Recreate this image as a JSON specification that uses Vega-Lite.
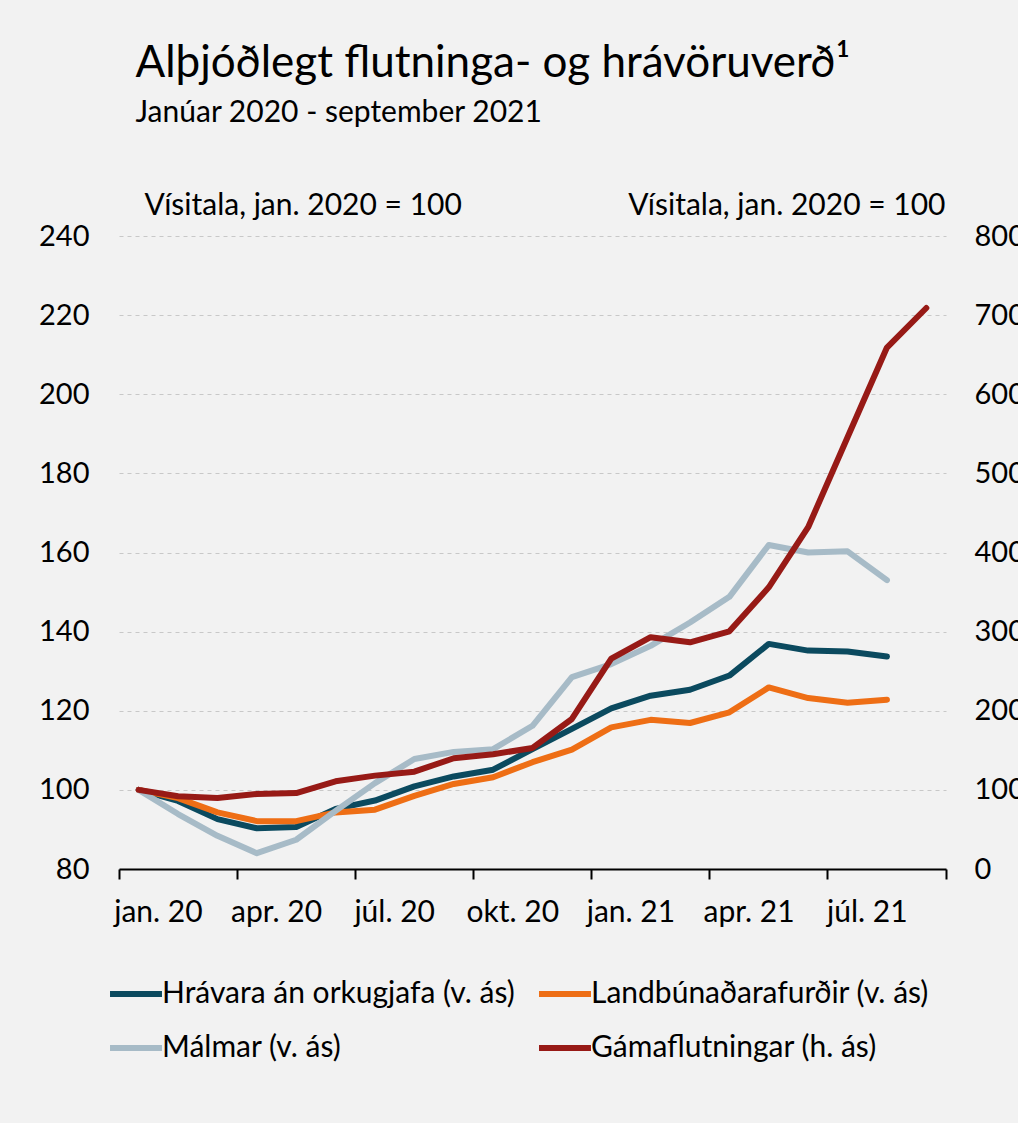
{
  "$schema": "https://vega.github.io/schema/vega-lite/v6.json",
  "background": "#f2f2f2",
  "padding": {"left": 38, "top": 42, "right": 10, "bottom": 60},
  "width": 827,
  "height": 633,
  "title": {
    "text": "Alþjóðlegt flutninga- og hrávöruverð¹",
    "subtitle": "Janúar 2020 - september 2021",
    "anchor": "start",
    "dx": 97,
    "font": "Lato",
    "fontSize": 44,
    "fontWeight": "normal",
    "color": "#000000",
    "subtitleFont": "Lato",
    "subtitleFontSize": 30,
    "subtitleColor": "#000000",
    "subtitlePadding": 12,
    "offset": 62
  },
  "data": {
    "values": [
      {"month": "jan. 20", "series": "Hrávara án orkugjafa (v. ás)", "value": 100},
      {"month": "feb. 20", "series": "Hrávara án orkugjafa (v. ás)", "value": 97.2},
      {"month": "mar. 20", "series": "Hrávara án orkugjafa (v. ás)", "value": 92.6},
      {"month": "apr. 20", "series": "Hrávara án orkugjafa (v. ás)", "value": 90.3},
      {"month": "maí 20", "series": "Hrávara án orkugjafa (v. ás)", "value": 90.6},
      {"month": "jún. 20", "series": "Hrávara án orkugjafa (v. ás)", "value": 95.2},
      {"month": "júl. 20", "series": "Hrávara án orkugjafa (v. ás)", "value": 97.3},
      {"month": "ágú. 20", "series": "Hrávara án orkugjafa (v. ás)", "value": 100.9},
      {"month": "sep. 20", "series": "Hrávara án orkugjafa (v. ás)", "value": 103.4},
      {"month": "okt. 20", "series": "Hrávara án orkugjafa (v. ás)", "value": 105.1},
      {"month": "nóv. 20", "series": "Hrávara án orkugjafa (v. ás)", "value": 110.3},
      {"month": "des. 20", "series": "Hrávara án orkugjafa (v. ás)", "value": 115.4},
      {"month": "jan. 21", "series": "Hrávara án orkugjafa (v. ás)", "value": 120.6},
      {"month": "feb. 21", "series": "Hrávara án orkugjafa (v. ás)", "value": 123.8},
      {"month": "mar. 21", "series": "Hrávara án orkugjafa (v. ás)", "value": 125.3},
      {"month": "apr. 21", "series": "Hrávara án orkugjafa (v. ás)", "value": 128.9},
      {"month": "maí 21", "series": "Hrávara án orkugjafa (v. ás)", "value": 136.9},
      {"month": "jún. 21", "series": "Hrávara án orkugjafa (v. ás)", "value": 135.2},
      {"month": "júl. 21", "series": "Hrávara án orkugjafa (v. ás)", "value": 135.0},
      {"month": "ágú. 21", "series": "Hrávara án orkugjafa (v. ás)", "value": 133.7},

      {"month": "jan. 20", "series": "Landbúnaðarafurðir (v. ás)", "value": 100},
      {"month": "feb. 20", "series": "Landbúnaðarafurðir (v. ás)", "value": 97.9},
      {"month": "mar. 20", "series": "Landbúnaðarafurðir (v. ás)", "value": 94.3},
      {"month": "apr. 20", "series": "Landbúnaðarafurðir (v. ás)", "value": 92.1},
      {"month": "maí 20", "series": "Landbúnaðarafurðir (v. ás)", "value": 92.1},
      {"month": "jún. 20", "series": "Landbúnaðarafurðir (v. ás)", "value": 94.3},
      {"month": "júl. 20", "series": "Landbúnaðarafurðir (v. ás)", "value": 95.0},
      {"month": "ágú. 20", "series": "Landbúnaðarafurðir (v. ás)", "value": 98.5},
      {"month": "sep. 20", "series": "Landbúnaðarafurðir (v. ás)", "value": 101.5},
      {"month": "okt. 20", "series": "Landbúnaðarafurðir (v. ás)", "value": 103.2},
      {"month": "nóv. 20", "series": "Landbúnaðarafurðir (v. ás)", "value": 107.0},
      {"month": "des. 20", "series": "Landbúnaðarafurðir (v. ás)", "value": 110.2},
      {"month": "jan. 21", "series": "Landbúnaðarafurðir (v. ás)", "value": 115.8},
      {"month": "feb. 21", "series": "Landbúnaðarafurðir (v. ás)", "value": 117.7},
      {"month": "mar. 21", "series": "Landbúnaðarafurðir (v. ás)", "value": 116.9},
      {"month": "apr. 21", "series": "Landbúnaðarafurðir (v. ás)", "value": 119.6},
      {"month": "maí 21", "series": "Landbúnaðarafurðir (v. ás)", "value": 125.9},
      {"month": "jún. 21", "series": "Landbúnaðarafurðir (v. ás)", "value": 123.2},
      {"month": "júl. 21", "series": "Landbúnaðarafurðir (v. ás)", "value": 122.0},
      {"month": "ágú. 21", "series": "Landbúnaðarafurðir (v. ás)", "value": 122.8},

      {"month": "jan. 20", "series": "Málmar (v. ás)", "value": 100},
      {"month": "feb. 20", "series": "Málmar (v. ás)", "value": 93.9},
      {"month": "mar. 20", "series": "Málmar (v. ás)", "value": 88.4},
      {"month": "apr. 20", "series": "Málmar (v. ás)", "value": 84.0},
      {"month": "maí 20", "series": "Málmar (v. ás)", "value": 87.4},
      {"month": "jún. 20", "series": "Málmar (v. ás)", "value": 94.7},
      {"month": "júl. 20", "series": "Málmar (v. ás)", "value": 101.7},
      {"month": "ágú. 20", "series": "Málmar (v. ás)", "value": 107.8},
      {"month": "sep. 20", "series": "Málmar (v. ás)", "value": 109.6},
      {"month": "okt. 20", "series": "Málmar (v. ás)", "value": 110.3},
      {"month": "nóv. 20", "series": "Málmar (v. ás)", "value": 116.2},
      {"month": "des. 20", "series": "Málmar (v. ás)", "value": 128.5},
      {"month": "jan. 21", "series": "Málmar (v. ás)", "value": 131.8},
      {"month": "feb. 21", "series": "Málmar (v. ás)", "value": 136.4},
      {"month": "mar. 21", "series": "Málmar (v. ás)", "value": 142.3},
      {"month": "apr. 21", "series": "Málmar (v. ás)", "value": 148.8},
      {"month": "maí 21", "series": "Málmar (v. ás)", "value": 161.9},
      {"month": "jún. 21", "series": "Málmar (v. ás)", "value": 160.0},
      {"month": "júl. 21", "series": "Málmar (v. ás)", "value": 160.3},
      {"month": "ágú. 21", "series": "Málmar (v. ás)", "value": 153.0},

      {"month": "jan. 20", "series": "Gámaflutningar (h. ás)", "value": 100},
      {"month": "feb. 20", "series": "Gámaflutningar (h. ás)", "value": 91.9},
      {"month": "mar. 20", "series": "Gámaflutningar (h. ás)", "value": 89.7},
      {"month": "apr. 20", "series": "Gámaflutningar (h. ás)", "value": 94.8},
      {"month": "maí 20", "series": "Gámaflutningar (h. ás)", "value": 96.0},
      {"month": "jún. 20", "series": "Gámaflutningar (h. ás)", "value": 110.8},
      {"month": "júl. 20", "series": "Gámaflutningar (h. ás)", "value": 118.0},
      {"month": "ágú. 20", "series": "Gámaflutningar (h. ás)", "value": 123.0},
      {"month": "sep. 20", "series": "Gámaflutningar (h. ás)", "value": 140.0},
      {"month": "okt. 20", "series": "Gámaflutningar (h. ás)", "value": 145.0},
      {"month": "nóv. 20", "series": "Gámaflutningar (h. ás)", "value": 153.0},
      {"month": "des. 20", "series": "Gámaflutningar (h. ás)", "value": 189.6},
      {"month": "jan. 21", "series": "Gámaflutningar (h. ás)", "value": 266.0},
      {"month": "feb. 21", "series": "Gámaflutningar (h. ás)", "value": 293.0},
      {"month": "mar. 21", "series": "Gámaflutningar (h. ás)", "value": 286.5},
      {"month": "apr. 21", "series": "Gámaflutningar (h. ás)", "value": 300.4},
      {"month": "maí 21", "series": "Gámaflutningar (h. ás)", "value": 356.0},
      {"month": "jún. 21", "series": "Gámaflutningar (h. ás)", "value": 432.0},
      {"month": "júl. 21", "series": "Gámaflutningar (h. ás)", "value": 545.6},
      {"month": "ágú. 21", "series": "Gámaflutningar (h. ás)", "value": 659.0},
      {"month": "sep. 21", "series": "Gámaflutningar (h. ás)", "value": 709.0}
    ]
  },
  "config": {
    "view": {"stroke": null},
    "axis": {
      "labelFont": "Lato",
      "labelFontSize": 29,
      "labelColor": "#000000",
      "titleFont": "Lato",
      "titleFontSize": 30,
      "titleFontWeight": "normal",
      "titleColor": "#000000"
    }
  },
  "layer": [
    {
      "transform": [{"filter": "datum.series !== 'Gámaflutningar (h. ás)'"}],
      "mark": {"type": "line", "strokeWidth": 6, "strokeCap": "round", "strokeJoin": "round"},
      "encoding": {
        "x": {
          "field": "month",
          "type": "ordinal",
          "sort": null,
          "scale": {
            "type": "band",
            "paddingInner": 0,
            "paddingOuter": 0,
            "domain": ["jan. 20","feb. 20","mar. 20","apr. 20","maí 20","jún. 20","júl. 20","ágú. 20","sep. 20","okt. 20","nóv. 20","des. 20","jan. 21","feb. 21","mar. 21","apr. 21","maí 21","jún. 21","júl. 21","ágú. 21","sep. 21"]
          },
          "axis": {
            "title": null,
            "orient": "bottom",
            "values": ["jan. 20","apr. 20","júl. 20","okt. 20","jan. 21","apr. 21","júl. 21"],
            "bandPosition": 0,
            "labelOffset": 19.7,
            "labelAngle": 0,
            "labelFontSize": 30,
            "labelPadding": 18,
            "tickSize": 10,
            "tickColor": "#000000",
            "tickWidth": 2,
            "domainColor": "#000000",
            "domainWidth": 2,
            "grid": false
          }
        },
        "y": {
          "field": "value",
          "type": "quantitative",
          "scale": {"domain": [80, 240], "nice": false, "zero": false},
          "axis": {
            "title": "Vísitala, jan. 2020 = 100",
            "titleAngle": 0,
            "titleAlign": "left",
            "titleBaseline": "alphabetic",
            "titleX": 25,
            "titleY": -22,
            "values": [80, 100, 120, 140, 160, 180, 200, 220, 240],
            "ticks": false,
            "domain": false,
            "labelPadding": 30,
            "grid": true,
            "gridColor": "#c8c8c8",
            "gridDash": [4, 4],
            "gridWidth": 1
          }
        },
        "color": {
          "field": "series",
          "type": "nominal",
          "scale": {
            "domain": ["Hrávara án orkugjafa (v. ás)", "Landbúnaðarafurðir (v. ás)", "Málmar (v. ás)", "Gámaflutningar (h. ás)"],
            "range": ["#0b4a5f", "#ee6e15", "#a7bbc7", "#971a16"]
          },
          "legend": {
            "title": null,
            "orient": "none",
            "legendX": -12,
            "legendY": 729,
            "columns": 2,
            "direction": "horizontal",
            "symbolType": "stroke",
            "symbolStrokeWidth": 6,
            "symbolSize": 2700,
            "labelFont": "Lato",
            "labelFontSize": 30,
            "labelColor": "#000000",
            "labelOffset": -3,
            "labelLimit": 0,
            "columnPadding": 12,
            "rowPadding": 10
          }
        }
      }
    },
    {
      "transform": [{"filter": "datum.series === 'Gámaflutningar (h. ás)'"}],
      "mark": {"type": "line", "strokeWidth": 6, "strokeCap": "round", "strokeJoin": "round"},
      "encoding": {
        "x": {
          "field": "month",
          "type": "ordinal",
          "sort": null,
          "axis": {
            "title": null,
            "orient": "bottom",
            "values": ["sep. 21"],
            "bandPosition": 1,
            "labels": false,
            "domain": false,
            "tickSize": 10,
            "tickColor": "#000000",
            "tickWidth": 2,
            "grid": false
          }
        },
        "y": {
          "field": "value",
          "type": "quantitative",
          "scale": {"domain": [0, 800], "nice": false},
          "axis": {
            "orient": "right",
            "title": "Vísitala, jan. 2020 = 100",
            "titleAngle": 0,
            "titleAlign": "right",
            "titleBaseline": "alphabetic",
            "titleX": -1,
            "titleY": -22,
            "values": [0, 100, 200, 300, 400, 500, 600, 700, 800],
            "ticks": false,
            "domain": false,
            "labelPadding": 28,
            "grid": false
          }
        },
        "color": {"field": "series", "type": "nominal"}
      }
    }
  ],
  "resolve": {"scale": {"y": "independent"}, "axis": {"x": "independent"}}
}
